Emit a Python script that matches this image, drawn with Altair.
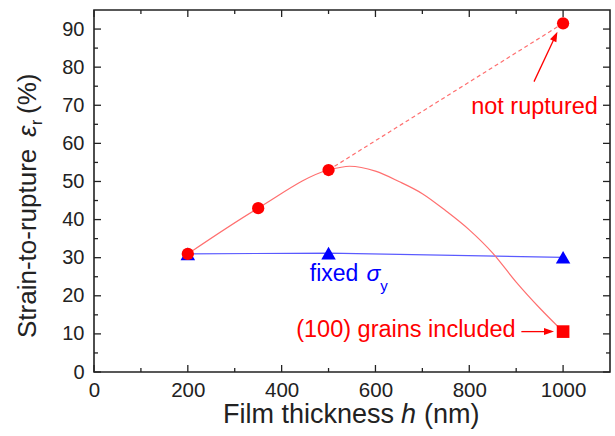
import altair as alt
import pandas as pd

FONT = "Liberation Sans"
RED = "#ff0000"
RED_LINE = "#ff6f6f"
BLUE = "#0000ff"
BLUE_LINE = "#5a5aff"
INK = "#222222"

# strain-to-rupture (%) versus film thickness h (nm)
circle_h = [200, 350, 500, 1000]
circle_eps = [31, 43, 53, 91.5]

triangle_h = [200, 500, 1000]
triangle_eps = [31, 31.2, 30.1]

square_h = [1000]
square_eps = [10.6]

# guide curve through the ruptured films and the (100)-grain case
curve_h = [200, 350, 500, 545, 600, 650, 700, 750, 800, 850, 900, 950, 1000]
curve_eps = [31, 43, 53, 54, 52.7, 50, 46.8, 42.3, 37.3, 31.2, 23.6, 16.8, 10.6]

# dotted extension to the unruptured film
dash_h = [500, 1000]
dash_eps = [53, 91.5]

# axis ticks
x_major = [0, 200, 400, 600, 800, 1000]
x_minor = [100, 300, 500, 700, 900]
y_major = [0, 10, 20, 30, 40, 50, 60, 70, 80, 90]
y_minor = [5, 15, 25, 35, 45, 55, 65, 75, 85]

W, H = 516, 362

xs = alt.Scale(domain=[0, 1100], nice=False, zero=False)
ys = alt.Scale(domain=[0, 95], nice=False, zero=False)

axis_common = dict(
    labelFont=FONT,
    labelColor=INK,
    ticks=False,
    domain=False,
    grid=False,
    title=None,
    labelFlush=False,
    format="d",
)
x_axis = alt.Axis(values=x_major, labelPadding=8, labelFontSize=20.5, **axis_common)
y_axis = alt.Axis(values=y_major, labelPadding=10, labelFontSize=20, **axis_common)


def xq(field):
    return alt.X(f"{field}:Q", scale=xs, axis=x_axis)


def yq(field):
    return alt.Y(f"{field}:Q", scale=ys, axis=y_axis)


circles = pd.DataFrame({"h": circle_h, "eps": circle_eps})
triangles = pd.DataFrame({"h": triangle_h, "eps": triangle_eps})
squares = pd.DataFrame({"h": square_h, "eps": square_eps})
curve = pd.DataFrame({"h": curve_h, "eps": curve_eps})
dash = pd.DataFrame({"h": dash_h, "eps": dash_eps})
one = pd.DataFrame({"k": [0]})

blue_line = alt.Chart(triangles).mark_line(color=BLUE_LINE, strokeWidth=1.2).encode(
    x=xq("h"), y=yq("eps")
)
blue_pts = alt.Chart(triangles).mark_point(
    shape="triangle-up", filled=True, color=BLUE, size=210, opacity=1
).encode(x=xq("h"), y=yq("eps"))

red_curve = alt.Chart(curve).mark_line(
    color=RED_LINE, strokeWidth=1.2, interpolate="monotone"
).encode(x=xq("h"), y=yq("eps"))
red_dash = alt.Chart(dash).mark_line(
    color=RED_LINE, strokeWidth=1.2, strokeDash=[4, 3]
).encode(x=xq("h"), y=yq("eps"))
red_pts = alt.Chart(circles).mark_point(
    shape="circle", filled=True, color=RED, size=150, opacity=1
).encode(x=xq("h"), y=yq("eps"))
red_sq = alt.Chart(squares).mark_point(
    shape="square", filled=True, color=RED, size=160, opacity=1
).encode(x=xq("h"), y=yq("eps"))

# inward ticks on all four sides of the frame
tick_layers = []
for vals, length in ((x_major, 7), (x_minor, 4)):
    df = pd.DataFrame({"v": vals})
    tick_layers.append(alt.Chart(df).mark_rule(color=INK, strokeWidth=1.3).encode(
        x=xq("v"), y=alt.value(H), y2=alt.value(H - length)))
    tick_layers.append(alt.Chart(df).mark_rule(color=INK, strokeWidth=1.3).encode(
        x=xq("v"), y=alt.value(0), y2=alt.value(length)))
for vals, length in ((y_major, 7), (y_minor, 4)):
    df = pd.DataFrame({"v": vals})
    tick_layers.append(alt.Chart(df).mark_rule(color=INK, strokeWidth=1.3).encode(
        y=yq("v"), x=alt.value(0), x2=alt.value(length)))
    tick_layers.append(alt.Chart(df).mark_rule(color=INK, strokeWidth=1.3).encode(
        y=yq("v"), x=alt.value(W), x2=alt.value(W - length)))


def label(text, x, y, color, size=23.5, style="normal", align="left"):
    return alt.Chart(one).mark_text(
        text=text, font=FONT, fontSize=size, fontStyle=style, color=color,
        align=align, baseline="alphabetic",
    ).encode(x=alt.datum(x, scale=xs), y=alt.datum(y, scale=ys))


def arrow(x1, y1, x2, y2, angle):
    line = alt.Chart(one).mark_rule(color=RED, strokeWidth=1.3).encode(
        x=alt.datum(x1), y=alt.datum(y1), x2=alt.datum(x2), y2=alt.datum(y2))
    head = alt.Chart(one).mark_point(
        shape="M-1,-0.7L1,0L-1,0.7Z", filled=True, color=RED, size=100,
        opacity=1, angle=angle,
    ).encode(x=alt.datum(x2), y=alt.datum(y2))
    return [line, head]


notes = [
    label("not ruptured", 804, 67.7, RED),
    label("(100) grains included", 431, 9.1, RED),
    label("fixed", 460, 24.0, BLUE, size=23),
    label("σ", 581, 24.0, BLUE, size=23, style="italic"),
    label("y", 610, 21.2, BLUE, size=15),
]
notes += arrow(938, 76.2, 983.4, 88.1, 295)
notes += arrow(911, 10.6, 970, 10.6, 0)


def title_piece(text, x, y, size, style="normal", angle=0):
    return alt.Chart(one).mark_text(
        text=text, font=FONT, fontSize=size, fontStyle=style, color=INK,
        align="left", baseline="alphabetic", angle=angle,
    ).encode(x=alt.value(x), y=alt.value(y))


titles = [
    title_piece("Film thickness", 129, 413, 27),
    title_piece("h", 307, 413, 27, style="italic"),
    title_piece("(nm)", 330, 413, 27),
    title_piece("Strain-to-rupture", -58, 328, 26, angle=270),
    title_piece("ε", -58, 127, 26, style="italic", angle=270),
    title_piece("r", -52, 115, 16, angle=270),
    title_piece("(%)", -58, 104, 26, angle=270),
]

chart = alt.layer(
    blue_line, *tick_layers, red_curve, red_dash,
    blue_pts, red_pts, red_sq, *notes, *titles,
).properties(
    width=W,
    height=H,
    autosize=alt.AutoSizeParams(type="none"),
    padding={"left": 94, "top": 10, "right": 5, "bottom": 64},
    background="white",
).configure_view(stroke=INK, strokeWidth=1.6)

chart.save("out.html", embed_options={"renderer": "svg", "actions": False})
